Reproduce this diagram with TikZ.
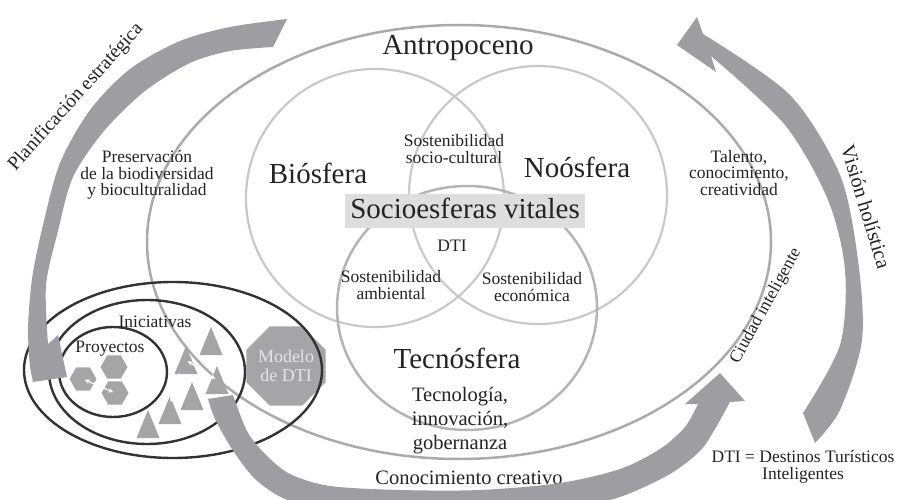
\documentclass[tikz,border=0pt]{standalone}
\usepackage{fontspec}
\setmainfont{Liberation Serif}
\usetikzlibrary{shapes.geometric}
\definecolor{bandgray}{RGB}{158,158,162}
\definecolor{shapegray}{RGB}{165,165,168}
\definecolor{ringgray}{RGB}{170,170,170}
\definecolor{venngray}{RGB}{200,200,200}
\definecolor{tecgray}{RGB}{180,180,180}
\definecolor{boxgray}{RGB}{222,222,222}
\definecolor{inkgray}{RGB}{35,35,35}
\definecolor{darkring}{RGB}{50,50,50}
\newcommand{\bigtxt}{\fontsize{29}{31}\selectfont}
\newcommand{\midtxt}{\fontsize{20.5}{24}\selectfont}
\newcommand{\smalltxt}{\fontsize{17.5}{16.8}\selectfont}
\begin{document}
\begin{tikzpicture}[>=stealth,line join=round,line cap=round,x=1pt,y=1pt,
		font=\smalltxt,text=inkgray,
		ring/.style={draw=ringgray,line width=2.5},
		venn/.style={draw=venngray,line width=2.2},
		dark/.style={draw=darkring,line width=2.4},
		band/.style={fill=bandgray},
		hexa/.style={regular polygon,regular polygon sides=6,fill=shapegray,minimum size=27,inner sep=0},
		octa/.style={regular polygon,regular polygon sides=8,fill=shapegray,minimum size=76,inner sep=0,text=white!90!black,align=center,font=\fontsize{18}{19}\selectfont},
		link/.style={white,line width=1.2,shorten >=2,shorten <=2}]
	
	\useasboundingbox (0,0) rectangle (897,499);
	\clip (0,0) rectangle (897,499);
	\def\rv{129}
	\draw[ring] (459,257) ellipse (312 and 217); % Antropoceno
	\draw[venn] (375,301) circle (\rv);
	\draw[venn] (538,304) circle (\rv);
	\draw[venn,draw=tecgray,line width=2.5] (467,191) ellipse (130 and 122);
	
	\node[font=\bigtxt,anchor=base] (antro) at (458,444) {Antropoceno};
	\node[font=\bigtxt,anchor=base] (bio) at (318,316) {Biósfera};
	\node[font=\bigtxt,anchor=base] (noo) at (577,321) {Noósfera};
	\node[font=\bigtxt,anchor=base] (tec) at (457,131) {Tecnósfera};
	\node[font=\bigtxt,anchor=base,fill=boxgray,minimum width=240,text height=24,text depth=10,inner ysep=0] (socio) at (465,281) {Socioesferas vitales};
	\node[align=center] (ssc) at (454,350) {Sostenibilidad\\socio-cultural};
	\node (dti) at (452,253) {DTI};
	\node[align=center] (sam) at (391,214) {Sostenibilidad\\ambiental};
	\node[align=center] (sec) at (532,212) {Sostenibilidad\\económica};
	\node[align=center] (pres) at (147,324) {Preservación\\de la biodiversidad\\y bioculturalidad};
	\node[align=center] (tal) at (739,326) {Talento,\\conocimiento,\\creatividad};
	\node[font=\midtxt,align=center] (tig) at (460,78) {Tecnología,\\innovación,\\gobernanza};
	\node[font=\midtxt,anchor=base] (cc) at (469,15) {Conocimiento creativo};
	\node[align=center] (leyenda) at (803,32) {DTI = Destinos Turísticos\\Inteligentes};
	
	% proyectos e iniciativas
	\node[octa] (mod) at (286,133) {Modelo\\de DTI};
	\draw[dark] (173,129) ellipse (149 and 88);
	\draw[dark] (147,127) ellipse (98 and 72);
	\draw[dark] (113,127) ellipse (54 and 45);
	\node[anchor=base] (ini) at (155,172) {Iniciativas};
	\node[anchor=base] (proy) at (110,147) {Proyectos};
	\node[hexa] (h1) at (114,132) {};
	\node[hexa] (h2) at (83,120) {};
	\node[hexa] (h3) at (115,106) {};
	\draw[link,<->] (h2.center) -- (h3.center);
	\foreach \n/\px/\py in {1/148/75,2/170/89,3/186/139,4/192/103,5/211/158,6/217/119}{
		\coordinate (t\n) at (\px,\py);
		\fill[shapegray] (t\n) ++(-11.5,-14) -- ++(23,0) -- ++(-11.5,28) -- cycle;
	}
	\draw[link,<->] (t3) -- (t6);
	\draw[link,->] ([xshift=-6pt,yshift=-12pt]t3) -- ([yshift=6pt]t2);
	
	% flechas grandes
	\fill[band] plot[smooth] coordinates {(287,480) (230,472) (180,458) (130,430) (90,389) (60,336) (43,274) (32,220) (28,170) (30,132)}
		-- (33,117) -- (67,122) -- (58,164)
		-- plot[smooth] coordinates {(48,155) (46,214) (58,268) (73,322) (104,368) (145,408) (190,436) (230,448) (273,452)} -- cycle;
	\fill[band] plot[smooth] coordinates {(815,56) (840,89) (862,159) (858,239) (840,324) (790,404) (703,465)}
		-- (697,482) -- (677,454) -- (716,427)
		-- plot[smooth] coordinates {(711,443) (785,374) (828,299) (845,229) (840,154) (803,86)} -- cycle;
	\fill[band] plot[smooth] coordinates {(208,100) (215,80) (232,50) (255,20) (285,0) (330,-12) (400,-18) (480,-18) (560,-12) (620,2) (670,25) (700,48) (715,70) (730,97)}
		-- (745,98) -- (720,126) -- (685,95)
		-- plot[smooth] coordinates {(698,95) (685,72) (660,50) (620,30) (560,16) (480,9) (400,9) (330,13) (290,25) (265,45) (247,68) (233,104)} -- cycle;
	
	\node[font=\fontsize{19.5}{20}\selectfont,rotate=48] (plan) at (76,402) {Planificación estratégica};
	\node[font=\fontsize{20.5}{21}\selectfont,rotate=-73] (vis) at (866,292) {Visión holística};
	\node[rotate=61] (ciu) at (766,193) {Ciudad inteligente};
\end{tikzpicture}
\end{document}
